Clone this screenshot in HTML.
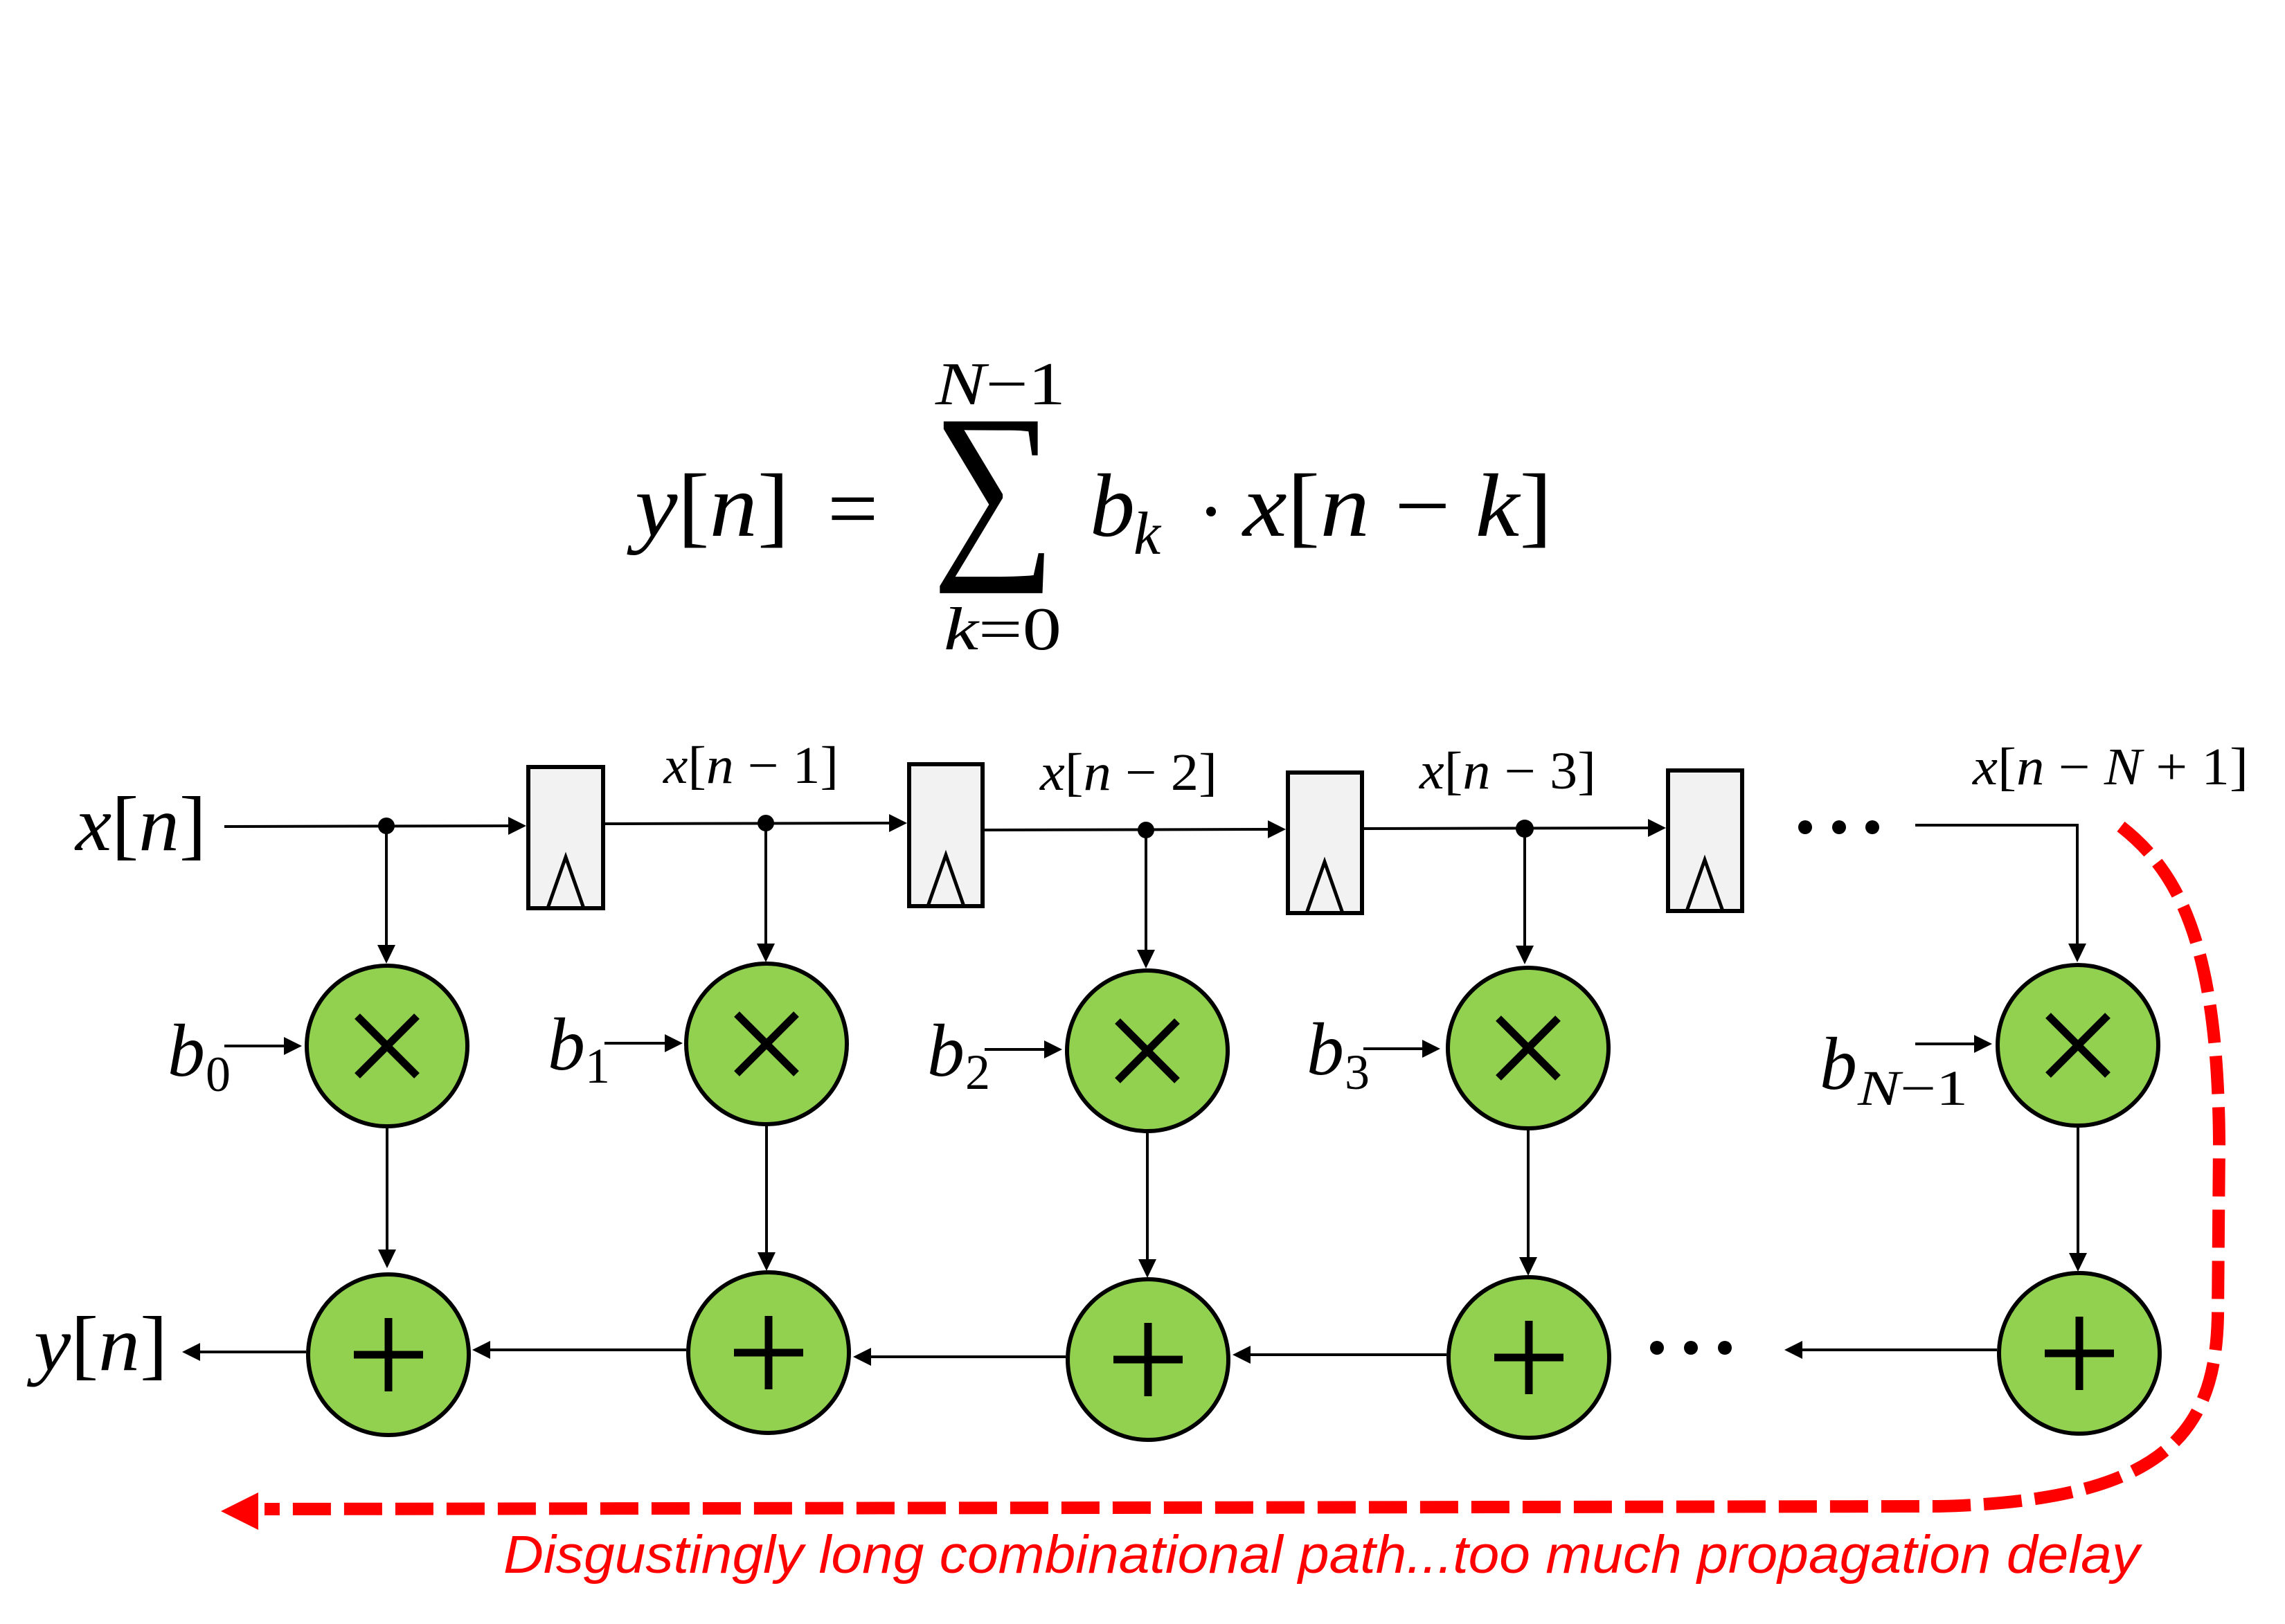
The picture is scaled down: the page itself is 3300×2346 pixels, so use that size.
<!DOCTYPE html>
<html>
<head>
<meta charset="utf-8">
<style>
  html, body { margin: 0; padding: 0; background: #ffffff; }
  svg { display: block; }
  .m { font-family: "Liberation Serif", "DejaVu Serif", serif; font-style: italic; fill: #000; }
  .r { font-style: normal; }
</style>
</head>
<body>
<svg width="3300" height="2346" viewBox="0 0 3300 2346" xmlns="http://www.w3.org/2000/svg">
  <rect x="0" y="0" width="3300" height="2346" fill="#ffffff"/>

  <!-- ===== Formula ===== -->
  <text class="m" x="917" y="774" font-size="130" textLength="223" lengthAdjust="spacingAndGlyphs">y<tspan class="r">[</tspan>n<tspan class="r">]</tspan></text>
  <text class="m r" x="1195" y="778" font-size="130" style="font-style:normal">=</text>
  <text class="m r" x="0" y="0" font-size="286" style="font-style:normal" transform="translate(1346,796) scale(0.88,1)">∑</text>
  <text class="m" x="1351" y="584" font-size="88" textLength="188" lengthAdjust="spacingAndGlyphs">N<tspan class="r">−1</tspan></text>
  <text class="m" x="1363" y="938" font-size="88" textLength="170" lengthAdjust="spacingAndGlyphs">k<tspan class="r">=0</tspan></text>
  <text class="m" x="1574" y="774" font-size="130">b</text>
  <text class="m" x="1637" y="800" font-size="88">k</text>
  <circle cx="1749" cy="739" r="7" fill="#000"/>
  <text class="m" x="1795" y="774" font-size="130" textLength="447" lengthAdjust="spacingAndGlyphs">x<tspan class="r">[</tspan>n<tspan class="r"> − </tspan>k<tspan class="r">]</tspan></text>

  <!-- ===== Left labels ===== -->
  <text class="m" x="109" y="1228" font-size="112" textLength="189" lengthAdjust="spacingAndGlyphs">x<tspan class="r">[</tspan>n<tspan class="r">]</tspan></text>
  <text class="m" x="49" y="1979" font-size="112" textLength="193" lengthAdjust="spacingAndGlyphs">y<tspan class="r">[</tspan>n<tspan class="r">]</tspan></text>

  <!-- ===== Top-row labels ===== -->
  <text class="m" x="958" y="1131" font-size="76" textLength="253" lengthAdjust="spacingAndGlyphs">x<tspan class="r">[</tspan>n<tspan class="r"> − 1]</tspan></text>
  <text class="m" x="1502" y="1141" font-size="76" textLength="256" lengthAdjust="spacingAndGlyphs">x<tspan class="r">[</tspan>n<tspan class="r"> − 2]</tspan></text>
  <text class="m" x="2050" y="1139" font-size="76" textLength="255" lengthAdjust="spacingAndGlyphs">x<tspan class="r">[</tspan>n<tspan class="r"> − 3]</tspan></text>
  <text class="m" x="2849" y="1133" font-size="76" textLength="398" lengthAdjust="spacingAndGlyphs">x<tspan class="r">[</tspan>n<tspan class="r"> − </tspan>N<tspan class="r"> + 1]</tspan></text>

  <!-- ===== Coefficient labels ===== -->
  <text class="m" x="242" y="1554" font-size="108">b</text>
  <text class="m r" x="297" y="1576" font-size="72" style="font-style:normal">0</text>
  <text class="m" x="791" y="1545" font-size="108">b</text>
  <text class="m r" x="845" y="1564" font-size="72" style="font-style:normal">1</text>
  <text class="m" x="1339" y="1554" font-size="108">b</text>
  <text class="m r" x="1394" y="1573" font-size="72" style="font-style:normal">2</text>
  <text class="m" x="1887" y="1552" font-size="108">b</text>
  <text class="m r" x="1942" y="1573" font-size="72" style="font-style:normal">3</text>
  <text class="m" x="2628" y="1573" font-size="108">b</text>
  <text class="m" x="2683" y="1596" font-size="72" textLength="159" lengthAdjust="spacingAndGlyphs">N<tspan class="r">−1</tspan></text>

  <!-- ===== Registers ===== -->
  <g fill="#f2f2f2" stroke="#000" stroke-width="6">
    <rect x="763" y="1108" width="108" height="204"/>
    <rect x="1313" y="1104" width="106" height="205"/>
    <rect x="1860" y="1116" width="107" height="203"/>
    <rect x="2409" y="1113" width="107" height="203"/>
  </g>
  <g fill="none" stroke="#000" stroke-width="5" stroke-linejoin="miter">
    <polyline points="791,1312 817,1238 843,1312"/>
    <polyline points="1340,1309 1366,1235 1392,1309"/>
    <polyline points="1887,1319 1913,1245 1939,1319"/>
    <polyline points="2436,1316 2462,1242 2488,1316"/>
  </g>

  <!-- ===== Wires (black) ===== -->
  <g stroke="#000" stroke-width="4" fill="none">
    <line x1="324" y1="1194" x2="736" y2="1193"/>
    <line x1="874" y1="1190" x2="1286" y2="1189"/>
    <line x1="1422" y1="1199" x2="1833" y2="1198"/>
    <line x1="1970" y1="1197" x2="2382" y2="1196"/>
    <polyline points="2766,1192 3000,1192 3000,1364"/>
    <line x1="558" y1="1193" x2="558" y2="1366"/>
    <line x1="1106" y1="1189" x2="1106" y2="1364"/>
    <line x1="1655" y1="1199" x2="1655" y2="1373"/>
    <line x1="2202" y1="1197" x2="2202" y2="1367"/>
    <line x1="559" y1="1629" x2="559" y2="1806"/>
    <line x1="1107" y1="1626" x2="1107" y2="1810"/>
    <line x1="1657" y1="1636" x2="1657" y2="1820"/>
    <line x1="2207" y1="1632" x2="2207" y2="1817"/>
    <line x1="3001" y1="1628" x2="3001" y2="1811"/>
    <line x1="324" y1="1511" x2="412" y2="1511"/>
    <line x1="873" y1="1507" x2="962" y2="1507"/>
    <line x1="1422" y1="1516" x2="1510" y2="1516"/>
    <line x1="1969" y1="1515" x2="2056" y2="1515"/>
    <line x1="2766" y1="1508" x2="2853" y2="1508"/>
    <line x1="2884" y1="1950" x2="2601" y2="1950"/>
    <line x1="2089" y1="1957" x2="1804" y2="1957"/>
    <line x1="1539" y1="1960" x2="1258" y2="1960"/>
    <line x1="991" y1="1950" x2="706" y2="1950"/>
    <line x1="442" y1="1953" x2="289" y2="1953"/>
  </g>

  <!-- arrowheads -->
  <g fill="#000">
    <polygon points="760,1193 734,1180 734,1206"/>
    <polygon points="1310,1189 1284,1176 1284,1202"/>
    <polygon points="1857,1198 1831,1185 1831,1211"/>
    <polygon points="2406,1196 2380,1183 2380,1209"/>
    <polygon points="436,1511 410,1498 410,1524"/>
    <polygon points="986,1507 960,1494 960,1520"/>
    <polygon points="1534,1516 1508,1503 1508,1529"/>
    <polygon points="2080,1515 2054,1502 2054,1528"/>
    <polygon points="2877,1508 2851,1495 2851,1521"/>
    <polygon points="558,1392 545,1365 571,1365"/>
    <polygon points="1106,1390 1093,1363 1119,1363"/>
    <polygon points="1655,1399 1642,1372 1668,1372"/>
    <polygon points="2202,1393 2189,1366 2215,1366"/>
    <polygon points="3000,1390 2987,1363 3013,1363"/>
    <polygon points="559,1832 546,1805 572,1805"/>
    <polygon points="1107,1836 1094,1809 1120,1809"/>
    <polygon points="1657,1846 1644,1819 1670,1819"/>
    <polygon points="2207,1843 2194,1816 2220,1816"/>
    <polygon points="3001,1837 2988,1810 3014,1810"/>
    <polygon points="2577,1950 2603,1937 2603,1963"/>
    <polygon points="1780,1957 1806,1944 1806,1970"/>
    <polygon points="1232,1960 1258,1947 1258,1973"/>
    <polygon points="682,1950 708,1937 708,1963"/>
    <polygon points="263,1953 289,1940 289,1966"/>
  </g>

  <!-- junction dots -->
  <g fill="#000">
    <circle cx="558" cy="1193" r="12"/>
    <circle cx="1106" cy="1189" r="12"/>
    <circle cx="1655" cy="1199" r="12"/>
    <circle cx="2202" cy="1197" r="13"/>
    <circle cx="2607" cy="1195" r="10"/>
    <circle cx="2656" cy="1195" r="10"/>
    <circle cx="2704" cy="1195" r="10"/>
    <circle cx="2393" cy="1947" r="10"/>
    <circle cx="2442" cy="1947" r="10"/>
    <circle cx="2491" cy="1947" r="10"/>
  </g>

  <!-- ===== Multipliers & adders ===== -->
  <g fill="#92d050" stroke="#000" stroke-width="6">
    <circle cx="559" cy="1511" r="116"/>
    <circle cx="1107" cy="1508" r="116"/>
    <circle cx="1657" cy="1518" r="116"/>
    <circle cx="2207" cy="1514" r="116"/>
    <circle cx="3001" cy="1510" r="116"/>
    <circle cx="561" cy="1957" r="116"/>
    <circle cx="1110" cy="1954" r="116"/>
    <circle cx="1658" cy="1964" r="116"/>
    <circle cx="2208" cy="1961" r="116"/>
    <circle cx="3003" cy="1955" r="116"/>
  </g>
  <g stroke="#000" stroke-width="11" fill="none">
    <path d="M516,1468 L602,1554 M602,1468 L516,1554"/>
    <path d="M1064,1465 L1150,1551 M1150,1465 L1064,1551"/>
    <path d="M1614,1475 L1700,1561 M1700,1475 L1614,1561"/>
    <path d="M2164,1471 L2250,1557 M2250,1471 L2164,1557"/>
    <path d="M2958,1467 L3044,1553 M3044,1467 L2958,1553"/>
    <path d="M511,1957 L611,1957 M561,1904 L561,2010"/>
    <path d="M1060,1954 L1160,1954 M1110,1901 L1110,2007"/>
    <path d="M1608,1964 L1708,1964 M1658,1911 L1658,2017"/>
    <path d="M2158,1961 L2258,1961 M2208,1908 L2208,2014"/>
    <path d="M2953,1955 L3053,1955 M3003,1902 L3003,2008"/>
  </g>

  <!-- ===== Red critical path ===== -->
  <path d="M3063,1194 C3150,1262 3203,1370 3205,1650 L3203,1900 C3200,2075 3120,2168 2800,2176 L382,2180"
        fill="none" stroke="#ff0000" stroke-width="18" stroke-dasharray="55,19"/>
  <polygon points="319,2183 373,2156 373,2210" fill="#ff0000"/>

  <text x="727" y="2272" font-family="'Liberation Sans', Arial, sans-serif" font-style="italic" font-size="77" fill="#ff0000" textLength="2363" lengthAdjust="spacingAndGlyphs">Disgustingly long combinational path...too much propagation delay</text>
</svg>
</body>
</html>
